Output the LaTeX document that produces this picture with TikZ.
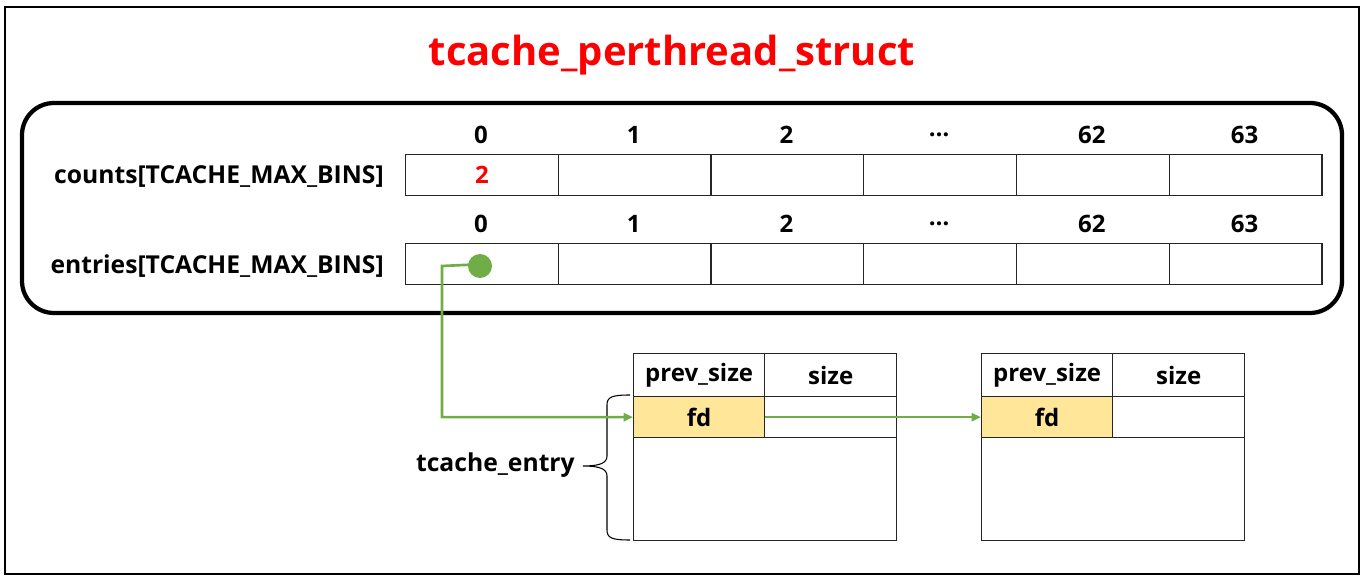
\documentclass[tikz,border=0pt]{standalone}
\usepackage{fontspec}
\setmainfont{Open Sans}
\usetikzlibrary{arrows.meta}
\definecolor{gr}{HTML}{70AD47}
\definecolor{yl}{HTML}{FFE699}
\definecolor{rd}{HTML}{FF0000}
\tikzset{
  cell/.style={draw=black!85,line width=1pt,minimum width=152.7*0.75pt,minimum height=41*0.75pt,inner sep=0pt,anchor=north west},
  lbl/.style={font=\bfseries\fontsize{18.5}{20}\selectfont,inner sep=0pt},
  idx/.style={font=\bfseries\fontsize{18}{20}\selectfont,inner sep=0pt},
  ccell/.style={draw=black!85,line width=1pt,inner sep=0pt,anchor=north west,font=\bfseries\fontsize{18}{20}\selectfont},
  garrow/.style={draw=gr,line width=2pt,-{Triangle[length=7pt,width=6pt]}}
}
\begin{document}
\begin{tikzpicture}[x=0.75pt,y=-0.75pt]
\useasboundingbox (0,0) rectangle (1365,580);
\draw[line width=1pt] (5,7) rectangle (1359,574);
\node[font=\bfseries\fontsize{30}{34}\selectfont,text=rd,inner sep=0pt] (title) at (672,55) {tcache\_perthread\_struct};
\draw[line width=3.2pt,rounded corners=24pt] (22,103) rectangle (1342,313);
% counts row
\foreach \i/\t in {0/0,1/1,2/2,3/…,4/62,5/63}{
  \node[cell] (c\i) at (405+152.7*\i,154) {};
  \node[idx] (ci\i) at (481+152.7*\i,135) {\t};
  \node[cell] (e\i) at (405+152.7*\i,243) {};
  \node[idx] (ei\i) at (481+152.7*\i,224) {\t};
}
\node[idx,text=rd] (two) at (c0.center) {2};
\node[lbl,anchor=east] (counts) at (384,177) {counts[TCACHE\_MAX\_BINS]};
\node[lbl,anchor=east] (entries) at (384,266) {entries[TCACHE\_MAX\_BINS]};
% chunk 1
\node[ccell,minimum width=131*0.75pt,minimum height=43*0.75pt] (p1) at (633,353) {prev\_size};
\node[ccell,minimum width=132*0.75pt,minimum height=43*0.75pt] (s1) at (764,353) {size};
\node[ccell,fill=yl,minimum width=131*0.75pt,minimum height=41*0.75pt] (f1) at (633,396) {fd};
\node[ccell,minimum width=132*0.75pt,minimum height=41*0.75pt] (b1) at (764,396) {};
\node[ccell,minimum width=263*0.75pt,minimum height=103*0.75pt] (r1) at (633,437) {};
% chunk 2
\node[ccell,minimum width=131*0.75pt,minimum height=43*0.75pt] (p2) at (981,353) {prev\_size};
\node[ccell,minimum width=132*0.75pt,minimum height=43*0.75pt] (s2) at (1112,353) {size};
\node[ccell,fill=yl,minimum width=131*0.75pt,minimum height=41*0.75pt] (f2) at (981,396) {fd};
\node[ccell,minimum width=132*0.75pt,minimum height=41*0.75pt] (b2) at (1112,396) {};
\node[ccell,minimum width=263*0.75pt,minimum height=103*0.75pt] (r2) at (981,437) {};
% brace
\draw[line width=0.8pt] (630,395) .. controls (612,395) and (607,397) .. (607,405)
  -- (607,456) .. controls (607,463) and (600,466) .. (583,466)
  .. controls (600,466) and (607,469) .. (607,476)
  -- (607,530) .. controls (607,538) and (612,540) .. (630,540);
\node[lbl,anchor=east] (te) at (575,465) {tcache\_entry};
% pointers
\coordinate (bend) at (442,266);
\draw[garrow] (e0.center) -- (bend) |- (f1.west);
\fill[gr] (480,266) circle (12);
\draw[garrow] (f1.east) -- (f2.west);
\end{tikzpicture}
\end{document}
